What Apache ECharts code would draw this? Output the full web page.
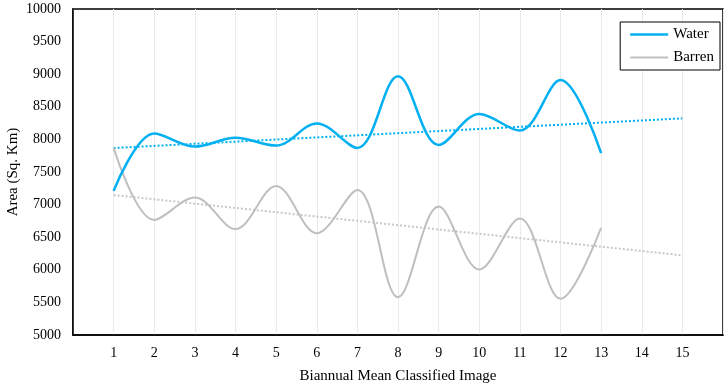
<!DOCTYPE html>
<html>
<head>
<meta charset="utf-8">
<script src="https://cdn.jsdelivr.net/npm/echarts@6/dist/echarts.min.js"></script>
<style>
html,body{margin:0;padding:0;background:#fff;}
#root{width:726px;height:386px;}
</style>
</head>
<body>
<div id="root"></div>
<script>
// data
const images = [1,2,3,4,5,6,7,8,9,10,11,12,13];
const water = [7210,8090,7890,8025,7905,8245,7870,8970,7915,8390,8135,8910,7790];
const barren = [7870,6765,7110,6625,7285,6560,7225,5580,6970,6005,6785,5555,6645];
const trendX = [1,15];
const waterTrend = [7868,8323];
const barrenTrend = [7147,6222];

const pairs = (xs, ys) => xs.map((x,i) => [x, ys[i]]);

let myCharts = echarts.init(document.getElementById('root'));
let font = 'Liberation Serif';
let option = {
    animation:false,
    textStyle:{fontFamily:font},
    grid:{
        left:73, right:3, top:9, bottom:51,
        outerBoundsMode:'none',
        show:true, borderColor:'#000', borderWidth:1.5
    },
    legend:{
        right:6, top:22,
        orient:'vertical',
        backgroundColor:'#fff',
        borderColor:'#000', borderWidth:1,
        padding:[5,6,5,10],
        itemGap:8,
        itemWidth:38, itemHeight:14,
        textStyle:{fontFamily:font, fontSize:15, color:'#000'},
        data:[
            {name:'Water', icon:'path://M0,6 L38,6 L38,8.5 L0,8.5 Z'},
            {name:'Barren', icon:'path://M0,6 L38,6 L38,8 L0,8 Z'}
        ]
    },
    xAxis:{
        type:'value',
        min:0, max:16, interval:1,
        name:'Biannual Mean Classified Image',
        nameLocation:'middle', nameGap:34,
        nameTextStyle:{fontFamily:font, fontSize:15, color:'#000'},
        axisLine:{show:true, lineStyle:{color:'#000', width:1.5}},
        axisTick:{show:false},
        axisLabel:{
            fontFamily:font, fontSize:14, color:'#000', margin:11,
            formatter:v => (v>=1 && v<=15) ? String(v) : ''
        },
        splitLine:{show:true, lineStyle:{color:'#ebebeb', width:1}}
    },
    yAxis:{
        type:'value',
        min:5000, max:10000, interval:500,
        name:'Area (Sq. Km)',
        nameLocation:'middle', nameGap:52,
        nameMoveOverlap:false,
        nameTextStyle:{fontFamily:font, fontSize:15, color:'#000'},
        axisLine:{show:true, lineStyle:{color:'#000', width:1.5}},
        axisTick:{show:false},
        axisLabel:{fontFamily:font, fontSize:14, color:'#000', margin:12, formatter:v => String(v)},
        splitLine:{show:false}
    },
    series:[
        {
            name:'Water', type:'line', smooth:0.35,
            data:pairs(images, water),
            symbol:'none',
            lineStyle:{color:'#00b0f0', width:2.5},
            itemStyle:{color:'#00b0f0'},
            z:4
        },
        {
            name:'Barren', type:'line', smooth:0.35,
            data:pairs(images, barren),
            symbol:'none',
            lineStyle:{color:'#bfbfbf', width:2},
            itemStyle:{color:'#bfbfbf'},
            z:3
        },
        {
            name:'Water trend', type:'line',
            data:pairs(trendX, waterTrend),
            symbol:'none',
            lineStyle:{color:'#00b0f0', width:2, type:[2,2]},
            z:2
        },
        {
            name:'Barren trend', type:'line',
            data:pairs(trendX, barrenTrend),
            symbol:'none',
            lineStyle:{color:'#c8c8c8', width:2, type:[2,2]},
            z:2
        }
    ]
};
myCharts.setOption(option);
</script>
</body>
</html>
